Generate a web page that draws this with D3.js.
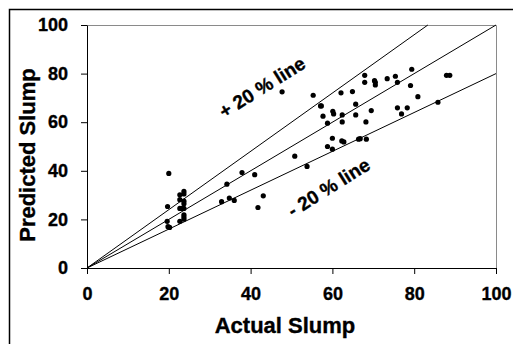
<!DOCTYPE html>
<html>
<head>
<meta charset="utf-8">
<script src="https://cdn.jsdelivr.net/npm/d3@7"></script>
<style>
  body { margin: 0; background: #fff; }
  text { font-family: "Liberation Sans", Arial, sans-serif; font-weight: bold; fill: #000; stroke: #000; stroke-width: 0.35px; }
</style>
</head>
<body>
<div id="chart"></div>
<script>
const actual = [
  20.0, 19.7, 19.6, 19.8, 20.2, 22.7, 23.7, 23.7, 22.7, 23.7, 23.7, 22.7, 23.2, 23.7,
  23.7, 23.7, 23.7, 22.7, 32.9, 34.2, 34.8, 36.0, 37.9, 41.0, 41.8, 43.1, 47.7, 50.8,
  53.8, 55.3, 57.1, 57.3, 57.7, 58.8, 58.8, 60.0, 60.0, 60.1, 60.3, 62.1, 62.4, 62.4,
  62.3, 62.8, 64.9, 65.7, 65.7, 66.4, 66.8, 67.9, 67.9, 68.2, 68.3, 69.5, 70.3, 70.5,
  70.5, 73.4, 75.4, 75.9, 75.9, 76.9, 78.3, 79.1, 79.4, 80.9, 85.8, 87.9, 88.7
];
const predicted = [
  38.9, 25.3, 19.2, 17.0, 16.7, 30.1, 31.5, 30.5, 28.1, 27.5, 26.4, 24.5, 24.5, 24.5,
  21.9, 21.0, 20.1, 19.2, 27.3, 34.5, 28.8, 27.8, 39.3, 38.4, 24.9, 29.7, 72.5, 46.0,
  41.8, 71.1, 66.7, 66.7, 62.5, 59.6, 50.0, 53.4, 48.9, 64.5, 63.4, 72.1, 63.0, 60.1,
  52.3, 51.9, 72.6, 67.4, 63.0, 53.0, 53.2, 79.3, 76.4, 60.1, 53.0, 64.8, 77.1, 76.4,
  75.3, 77.9, 78.9, 76.4, 65.9, 63.4, 65.9, 75.1, 81.8, 70.5, 68.2, 79.3, 79.3
];

// reference lines: predicted = factor * actual
const lineFactors = [1.2, 1.0, 0.8];
const lineLabels = ["+ 20 % line", "- 20 % line"];
const labelX = [42.8, 59.1];
const labelY = [74.4, 33.2];

const xTicks = [0, 20, 40, 60, 80, 100];
const yTicks = [0, 20, 40, 60, 80, 100];
const xTitle = "Actual Slump";
const yTitle = "Predicted Slump";

const W = 513, H = 344;
const margin = {top: 25, right: 17, bottom: 76, left: 87};

const svg = d3.select("#chart").append("svg")
    .attr("width", W)
    .attr("height", H);

// outer frame
svg.append("rect")
    .attr("x", 9.5).attr("y", 9.5)
    .attr("width", 600).attr("height", 600)
    .attr("fill", "none")
    .attr("stroke", "#000")
    .attr("stroke-width", 1.5);

const x = d3.scaleLinear().domain([0, 100]).range([margin.left, W - margin.right]);
const y = d3.scaleLinear().domain([0, 100]).range([H - margin.bottom, margin.top]);

// grey plot border on top and right
svg.append("path")
    .attr("d", `M${x(0)},${y(100) + 0.5}H${x(100) + 0.5}V${y(0)}`)
    .attr("fill", "none")
    .attr("stroke", "#8a8a8a")
    .attr("stroke-width", 1);

// axes
const xAxis = svg.append("g")
    .attr("transform", `translate(0,${y(0)})`)
    .call(d3.axisBottom(x).tickValues(xTicks).tickSize(6).tickSizeOuter(0).tickPadding(13));
const yAxis = svg.append("g")
    .attr("transform", `translate(${x(0)},0)`)
    .call(d3.axisLeft(y).tickValues(yTicks).tickSize(6).tickSizeOuter(0).tickPadding(13));

[xAxis, yAxis].forEach(g => {
    g.select(".domain").attr("stroke", "#000");
    g.selectAll(".tick line").attr("stroke", "#000");
    g.selectAll(".tick text")
        .style("font-size", "18px")
        .style("font-family", "'Liberation Sans', Arial, sans-serif")
        .style("font-weight", "bold")
        .attr("fill", "#000");
});

// reference lines
svg.append("g").selectAll("line")
    .data(lineFactors)
    .join("line")
    .attr("x1", x(0)).attr("y1", y(0))
    .attr("x2", d => x(Math.min(100, 100 / d)))
    .attr("y2", d => y(Math.min(100, 100 * d)))
    .attr("stroke", "#000")
    .attr("stroke-width", 1);

// points
svg.append("g").selectAll("circle")
    .data(actual.map((a, i) => [a, predicted[i]]))
    .join("circle")
    .attr("cx", d => x(d[0]))
    .attr("cy", d => y(d[1]))
    .attr("r", 2.6)
    .attr("fill", "#000");

// line labels
svg.append("g").selectAll("text")
    .data(lineLabels)
    .join("text")
    .attr("transform", (d, i) => `translate(${x(labelX[i])},${y(labelY[i])}) rotate(-32)`)
    .attr("text-anchor", "middle")
    .attr("dy", "0.35em")
    .style("font-size", "19px")
    .text(d => d);

// axis titles
svg.append("text")
    .attr("x", 285).attr("y", 333)
    .attr("text-anchor", "middle")
    .style("font-size", "22px")
    .text(xTitle);

svg.append("text")
    .attr("transform", "translate(35,155) rotate(-90)")
    .attr("text-anchor", "middle")
    .style("font-size", "22px")
    .text(yTitle);
</script>
</body>
</html>
